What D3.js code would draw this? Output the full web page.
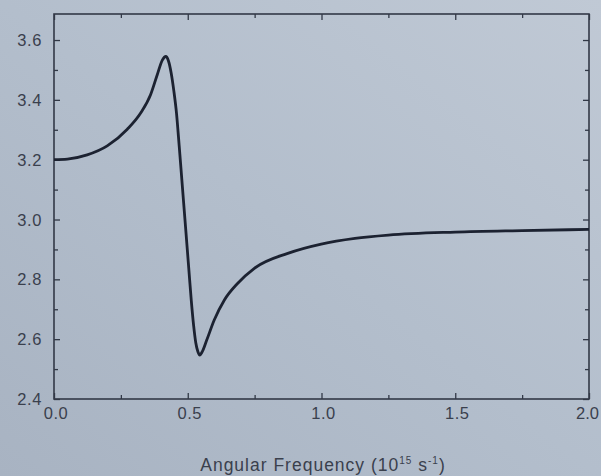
<!DOCTYPE html>
<html>
<head>
<meta charset="utf-8">
<script src="https://cdn.jsdelivr.net/npm/d3@7"></script>
<style>
  html, body { margin: 0; padding: 0; background: #b4becb; }
  svg { display: block; }
  text { font-family: "Liberation Sans", Arial, sans-serif; }
</style>
</head>
<body>
<svg id="chart" width="601" height="476"></svg>
<script>
// Angular frequency (10^15 s^-1)
const omega = [0.000, 0.050, 0.124, 0.199, 0.274, 0.324, 0.361, 0.386, 0.405, 0.418,
               0.428, 0.438, 0.448, 0.458, 0.468, 0.480, 0.492, 0.504, 0.513, 0.522,
               0.530, 0.538, 0.545, 0.553, 0.571, 0.599, 0.637, 0.687, 0.749, 0.874,
               0.999, 1.125, 1.250, 1.500, 1.750, 2.000];
// Refractive index values
const index = [3.200, 3.202, 3.216, 3.246, 3.302, 3.356, 3.417, 3.484, 3.533, 3.545,
               3.530, 3.490, 3.430, 3.355, 3.246, 3.109, 2.972, 2.834, 2.731, 2.645,
               2.588, 2.558, 2.547, 2.556, 2.597, 2.664, 2.731, 2.787, 2.837, 2.887,
               2.918, 2.937, 2.948, 2.958, 2.963, 2.967];
const xTickValues = [0, 0.5, 1.0, 1.5, 2.0];
const xTickLabels = ["0.0", "0.5", "1.0", "1.5", "2.0"];
const yTickValues = [2.4, 2.6, 2.8, 3.0, 3.2, 3.4, 3.6];
const yTickLabels = ["2.4", "2.6", "2.8", "3.0", "3.2", "3.4", "3.6"];
const xMinor = [0.25, 0.75, 1.25, 1.75];
const yMinor = [2.5, 2.7, 2.9, 3.1, 3.3, 3.5];

const svg = d3.select("#chart");
const W = 601, H = 476;
const L = 54, R = 589, T = 14, B = 399;

// photo-like background
const defs = svg.append("defs");
const grad = defs.append("linearGradient").attr("id", "bg")
  .attr("x1", "0").attr("y1", "1").attr("x2", "1").attr("y2", "0");
grad.append("stop").attr("offset", "0").attr("stop-color", "#a8b3c2");
grad.append("stop").attr("offset", "0.5").attr("stop-color", "#b3becc");
grad.append("stop").attr("offset", "1").attr("stop-color", "#c0c9d5");
svg.append("rect").attr("width", W).attr("height", H).attr("fill", "url(#bg)");

const x = d3.scaleLinear().domain([0, 2]).range([L, R]);
const y = d3.scaleLinear().domain([2.4, 3.687]).range([B, T]);

const axisColor = "#323947";
const textColor = "#3a404d";

function styleAxis(g) {
  g.select(".domain").remove();
  g.selectAll(".tick line").attr("stroke", axisColor).attr("stroke-width", 1.3);
}

// major + minor ticks (inward) on all four sides
const bottomMajor = d3.axisBottom(x).tickValues(xTickValues).tickSize(-6).tickFormat("");
const bottomMinor = d3.axisBottom(x).tickValues(xMinor).tickSize(-4).tickFormat("");
const topMajor = d3.axisTop(x).tickValues(xTickValues).tickSize(-6).tickFormat("");
const topMinor = d3.axisTop(x).tickValues(xMinor).tickSize(-4).tickFormat("");
const leftMajor = d3.axisLeft(y).tickValues(yTickValues).tickSize(-6).tickFormat("");
const leftMinor = d3.axisLeft(y).tickValues(yMinor).tickSize(-4).tickFormat("");
const rightMajor = d3.axisRight(y).tickValues(yTickValues).tickSize(-6).tickFormat("");
const rightMinor = d3.axisRight(y).tickValues(yMinor).tickSize(-4).tickFormat("");

[[bottomMajor, `translate(0,${B})`], [bottomMinor, `translate(0,${B})`],
 [topMajor, `translate(0,${T})`], [topMinor, `translate(0,${T})`],
 [leftMajor, `translate(${L},0)`], [leftMinor, `translate(${L},0)`],
 [rightMajor, `translate(${R},0)`], [rightMinor, `translate(${R},0)`]].forEach(([ax, tr]) => {
  svg.append("g").attr("transform", tr).call(ax).call(styleAxis);
});

// frame
svg.append("rect").attr("x", L).attr("y", T).attr("width", R - L).attr("height", B - T)
  .attr("fill", "none").attr("stroke", axisColor).attr("stroke-width", 1.6);

// tick labels
const lastX = xTickValues.length - 1;
svg.append("g").selectAll("text").data(xTickValues).join("text")
  .attr("x", (d, i) => i === lastX ? 599 : x(d) + 2).attr("y", 419)
  .attr("text-anchor", (d, i) => i === lastX ? "end" : "middle")
  .attr("font-size", 16.5).attr("letter-spacing", (d, i) => i === lastX ? 0 : 0.6)
  .attr("fill", textColor)
  .text((d, i) => xTickLabels[i]);

svg.append("g").selectAll("text").data(yTickValues).join("text")
  .attr("x", 42).attr("y", d => y(d) + 6)
  .attr("text-anchor", "end").attr("font-size", 16.5).attr("letter-spacing", 0.6)
  .attr("fill", textColor)
  .text((d, i) => yTickLabels[i]);

// curve
const pts = omega.map((w, i) => [w, index[i]]);
const line = d3.line().x(d => x(d[0])).y(d => y(d[1])).curve(d3.curveMonotoneX);
svg.append("path").datum(pts).attr("d", line)
  .attr("fill", "none").attr("stroke", "#1c2231").attr("stroke-width", 2.8)
  .attr("stroke-linejoin", "round");

// axis title
const title = svg.append("text").attr("x", 323).attr("y", 471)
  .attr("text-anchor", "middle").attr("font-size", 17.5).attr("letter-spacing", 1)
  .attr("fill", textColor);
title.append("tspan").text("Angular Frequency (10");
title.append("tspan").attr("font-size", 10).attr("dy", -7).text("15");
title.append("tspan").attr("dy", 7).text(" s");
title.append("tspan").attr("font-size", 10).attr("dy", -7).text("-1");
title.append("tspan").attr("dy", 7).text(")");
</script>
</body>
</html>
